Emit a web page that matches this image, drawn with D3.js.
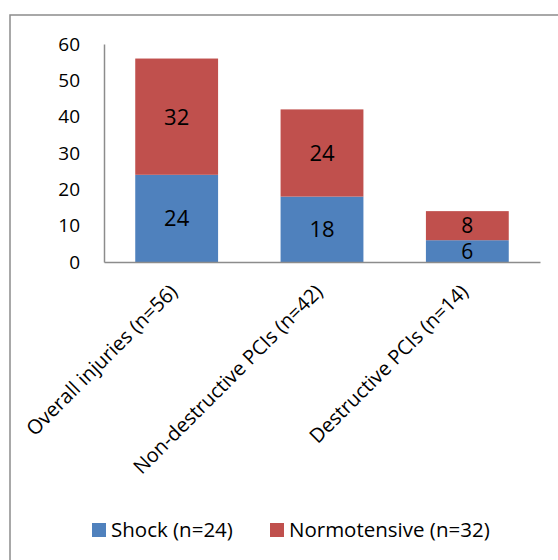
<html>
  <head>
    <script src="https://d3js.org/d3.v7.min.js"></script>
    <style>
      body { margin: 0; background: #fff; }
      text { font-family: "Open Sans", "Noto Sans", sans-serif; fill: #000; }
    </style>
  </head>
  <body>
    <svg id="chart" width="558" height="560"></svg>
    <script>
      // data
      const categories = ["Overall injuries (n=56)", "Non-destructive PCIs (n=42)", "Destructive PCIs (n=14)"];
      const shock = [24, 18, 6];
      const normo = [32, 24, 8];
      const seriesNames = ["Shock (n=24)", "Normotensive (n=32)"];
      const colors = ["#4F81BD", "#C0504D"];
      const yTicks = [0, 10, 20, 30, 40, 50, 60];

      const svg = d3.select("svg#chart");

      // outer frame
      svg.append("rect")
        .attr("x", 10).attr("y", 15)
        .attr("width", 600).attr("height", 600)
        .attr("fill", "none")
        .attr("stroke", "#8c8c8c")
        .attr("stroke-width", 1.5);

      const plot = { left: 104, right: 540, top: 44, bottom: 262 };

      const x = d3.scaleBand()
        .domain(categories)
        .range([plot.left, plot.right])
        .paddingInner(0.43)
        .paddingOuter(0.215);

      const y = d3.scaleLinear()
        .domain([0, 60])
        .range([plot.bottom, plot.top]);

      // stacked data
      const rows = categories.map((c, i) => ({ cat: c, shock: shock[i], normo: normo[i] }));
      const stacked = d3.stack().keys(["shock", "normo"])(rows);

      const layers = svg.append("g")
        .selectAll("g.layer")
        .data(stacked)
        .join("g")
        .attr("class", "layer")
        .attr("fill", (d, i) => colors[i]);

      layers.selectAll("rect")
        .data(d => d)
        .join("rect")
        .attr("x", d => x(d.data.cat))
        .attr("width", x.bandwidth())
        .attr("y", d => y(d[1]))
        .attr("height", d => y(d[0]) - y(d[1]));

      // value labels, small segments a touch smaller so they don't collide
      layers.selectAll("text")
        .data(d => d)
        .join("text")
        .attr("x", d => x(d.data.cat) + x.bandwidth() / 2)
        .attr("y", d => (y(d[0]) + y(d[1])) / 2)
        .attr("dy", "0.36em")
        .attr("text-anchor", "middle")
        .style("font-size", d => (d[1] - d[0] < 10 ? "21px" : "22px"))
        .text(d => d[1] - d[0]);

      // y axis
      const yAxis = svg.append("g")
        .attr("transform", `translate(${plot.left},0)`)
        .call(d3.axisLeft(y).tickValues(yTicks).tickSize(0).tickPadding(24));
      yAxis.select(".domain").attr("stroke", "#8c8c8c").attr("stroke-width", 1.5);
      yAxis.selectAll("text").style("font-size", "19px");

      // x axis
      const xAxis = svg.append("g")
        .attr("transform", `translate(0,${plot.bottom})`)
        .call(d3.axisBottom(x).tickSize(0).tickFormat(""));
      xAxis.select(".domain").attr("stroke", "#8c8c8c").attr("stroke-width", 1.5);

      svg.append("g")
        .selectAll("text")
        .data(categories)
        .join("text")
        .attr("text-anchor", "end")
        .attr("transform", d => `translate(${x(d) + x.bandwidth() / 2 + 2},${plot.bottom + 31}) rotate(-45)`)
        .style("font-size", "20px")
        .text(d => d);

      // legend
      const legend = svg.append("g").attr("transform", "translate(0,530)");
      const legX = [92, 270];
      seriesNames.forEach((name, i) => {
        legend.append("rect")
          .attr("x", legX[i]).attr("y", -7)
          .attr("width", 14).attr("height", 14)
          .attr("fill", colors[i]);
        legend.append("text")
          .attr("x", legX[i] + 19).attr("y", 0)
          .attr("dy", "0.36em")
          .style("font-size", "20.5px")
          .text(name);
      });
    </script>
  </body>
</html>
